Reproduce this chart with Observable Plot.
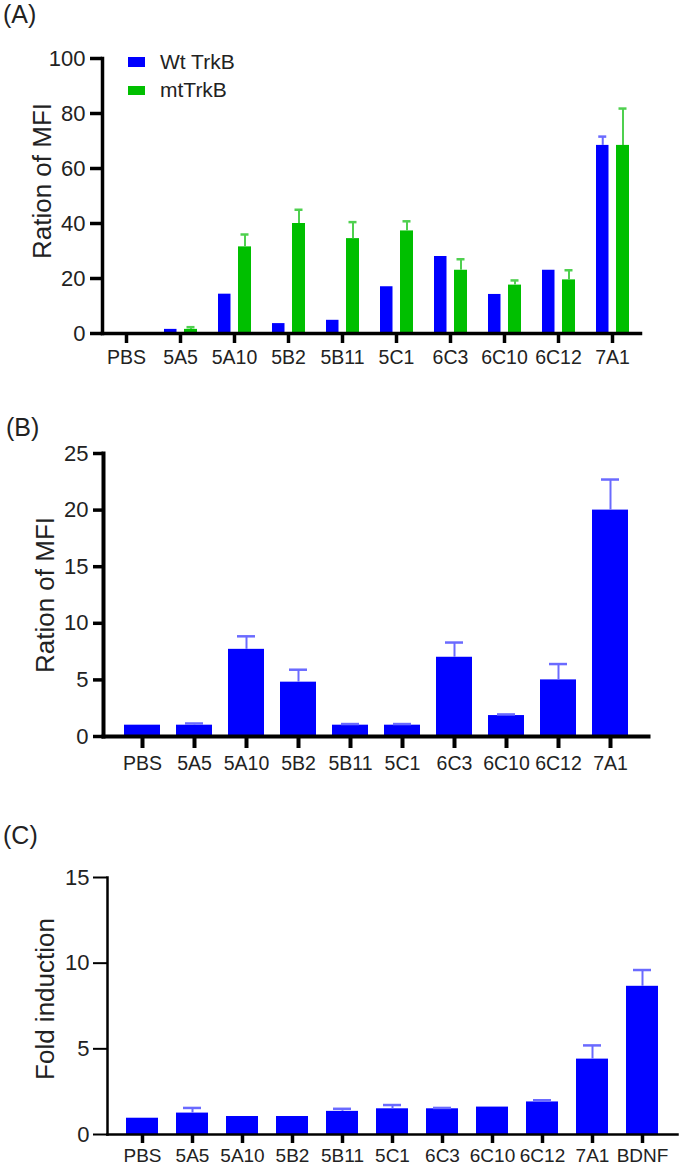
<!DOCTYPE html>
<html><head><meta charset="utf-8">
<script src="https://cdn.jsdelivr.net/npm/d3@7"></script>
<script src="https://cdn.jsdelivr.net/npm/@observablehq/plot@0.6"></script>
<style>
body{margin:0;background:#fff;font-family:"Liberation Sans",Arial,sans-serif;}
#root{position:relative;width:685px;height:1169px;overflow:hidden;background:#fff;}
.panel{position:absolute;left:0;}
.tag{position:absolute;font-size:25px;color:#222;line-height:1;}
.leg{position:absolute;font-size:21px;color:#222;line-height:1;}
.sw{position:absolute;width:17px;}
</style></head><body><div id="root"></div>
<script>
// ---------- data ----------
const categoriesAB = ["PBS","5A5","5A10","5B2","5B11","5C1","6C3","6C10","6C12","7A1"];
const categoriesC = ["PBS","5A5","5A10","5B2","5B11","5C1","6C3","6C10","6C12","7A1","BDNF"];

// Panel A: mean and upper error bar value
const wtA    = [0, 1.5, 14.3, 3.6, 4.8, 17.0, 28.0, 14.2, 23.0, 68.4];
const wtAHi  = [0, 1.5, 14.3, 3.6, 4.8, 17.0, 28.0, 14.2, 23.0, 71.6];
const mtA    = [0, 1.5, 31.5, 40.0, 34.5, 37.3, 23.0, 17.6, 19.5, 68.4];
const mtAHi  = [0, 2.3, 36.0, 45.0, 40.5, 40.8, 27.0, 19.3, 23.0, 81.8];
const yTicksA = [0, 20, 40, 60, 80, 100];

// Panel B
const valB   = [1.0, 1.0, 7.7, 4.8, 1.0, 1.0, 7.0, 1.85, 5.0, 20.0];
const valBHi = [1.0, 1.15, 8.85, 5.9, 1.1, 1.1, 8.3, 1.95, 6.4, 22.7];
const yTicksB = [0, 5, 10, 15, 20, 25];

// Panel C
const valC   = [0.95, 1.25, 1.05, 1.05, 1.35, 1.5, 1.5, 1.6, 1.9, 4.4, 8.65];
const valCHi = [0.95, 1.55, 1.05, 1.05, 1.5, 1.72, 1.55, 1.6, 2.0, 5.2, 9.6];
const yTicksC = [0, 5, 10, 15];

const seriesNames = ["Wt TrkB", "mtTrkB"];
const BLUE = "#0000ff", GREEN = "#00bf00";
const BLUE_ERR = "#6a6aff", GREEN_ERR = "#4fd04f";
const FONT = "'Liberation Sans', Arial, sans-serif";

const root = document.getElementById("root");
function place(el, top){ el.classList.add("panel"); el.style.top = top + "px"; root.appendChild(el); }
function tag(txt, x, y){ const d = document.createElement("div"); d.className="tag"; d.textContent = txt; d.style.left = x+"px"; d.style.top = y+"px"; root.appendChild(d); }
// make axis strokes heavy like the original figure
function heavy(svg, frameW, yTickW, xTickW){
  const set = (label, w) => d3.select(svg).selectAll(`[aria-label="${label}"]`).each(function(){
    d3.select(this).attr("stroke-width", w).style("stroke-width", w + "px").attr("stroke", "#000");
    d3.select(this).selectAll("path,line").attr("stroke-width", w).style("stroke-width", w + "px").attr("stroke", "#000");
  });
  set("frame", frameW);
  set("y-axis tick", yTickW);
  set("x-axis tick", xTickW);
}

// ---------- Panel A ----------
const dataA = categoriesAB.map((c,i)=>({c, wt:wtA[i], wtHi:wtAHi[i], mt:mtA[i], mtHi:mtAHi[i]}));
const errWtA = dataA.filter(d => d.wtHi > d.wt);
const errMtA = dataA.filter(d => d.mtHi > d.mt);
const plotA = Plot.plot({
  width: 685, height: 375, marginTop: 58, marginLeft: 102, marginRight: 45, marginBottom: 42,
  style: {fontFamily: FONT, color: "#222", background: "transparent", overflow: "visible"},
  x: {domain: categoriesAB, range: [98, 639], padding: 0, axis: null},
  y: {domain: [0, 100], axis: null},
  marks: [
    Plot.barY(dataA, {x: "c", y: "wt", fill: BLUE, insetLeft: 11, insetRight: 30.5}),
    Plot.barY(dataA, {x: "c", y: "mt", fill: GREEN, insetLeft: 31, insetRight: 10}),
    Plot.ruleX(errWtA, {x: "c", y1: "wt", y2: "wtHi", stroke: BLUE_ERR, strokeWidth: 2, dx: -9.75}),
    Plot.tickY(errWtA, {x: "c", y: "wtHi", stroke: BLUE_ERR, strokeWidth: 2.5, inset: 23, dx: -9.75}),
    Plot.ruleX(errMtA, {x: "c", y1: "mt", y2: "mtHi", stroke: GREEN_ERR, strokeWidth: 2, dx: 10.5}),
    Plot.tickY(errMtA, {x: "c", y: "mtHi", stroke: GREEN_ERR, strokeWidth: 2.5, inset: 23, dx: 10.5}),
    Plot.frame({anchor: "left", stroke: "#000", strokeWidth: 3.5}),
    Plot.frame({anchor: "bottom", stroke: "#000", strokeWidth: 3.5}),
    Plot.axisY({ticks: yTicksA, tickSize: 12, tickPadding: 5, strokeWidth: 3, fontSize: 22, label: null, stroke: "#000"}),
    Plot.axisX({tickSize: 10, tickPadding: 7, strokeWidth: 3, fontSize: 19.5, label: null, stroke: "#000"}),
    Plot.text(["Ration of MFI"], {text: d => d, frameAnchor: "left", textAnchor: "middle", rotate: -90, dx: -60, dy: -15, fontSize: 26, fill: "#222"})
  ]
});
heavy(plotA, 3.5, 3.5, 3.5);
place(plotA, 0);
tag("(A)", 3, 2);
// legend
[[BLUE, 57, 10, 51], [GREEN, 86, 9, 79]].forEach(([col, top, h, ty], i) => {
  const s = document.createElement("div"); s.className = "sw"; s.style.left = "128px"; s.style.top = top + "px"; s.style.height = h + "px"; s.style.background = col; root.appendChild(s);
  const t = document.createElement("div"); t.className = "leg"; t.textContent = seriesNames[i]; t.style.left = "160px"; t.style.top = ty + "px"; root.appendChild(t);
});

// ---------- Panel B ----------
const dataB = categoriesAB.map((c,i)=>({c, v: valB[i], hi: valBHi[i]}));
const errB = dataB.filter(d => d.hi > d.v);
const plotB = Plot.plot({
  width: 685, height: 378, marginTop: 53, marginLeft: 103, marginRight: 37, marginBottom: 42,
  style: {fontFamily: FONT, color: "#222", background: "transparent", overflow: "visible"},
  x: {domain: categoriesAB, paddingInner: 0.31, paddingOuter: 0.36, axis: null},
  y: {domain: [0, 25], axis: null},
  marks: [
    Plot.barY(dataB, {x: "c", y: "v", fill: BLUE}),
    Plot.ruleX(errB, {x: "c", y1: "v", y2: "hi", stroke: BLUE_ERR, strokeWidth: 2}),
    Plot.tickY(errB, {x: "c", y: "hi", stroke: BLUE_ERR, strokeWidth: 2.5, inset: 9}),
    Plot.frame({anchor: "left", stroke: "#000", strokeWidth: 3.5}),
    Plot.frame({anchor: "bottom", stroke: "#000", strokeWidth: 4}),
    Plot.axisY({ticks: yTicksB, tickSize: 10, tickPadding: 5, strokeWidth: 3.5, fontSize: 22, label: null, stroke: "#000"}),
    Plot.axisX({tickSize: 12, tickPadding: 8, strokeWidth: 4, fontSize: 19.5, label: null, stroke: "#000"}),
    Plot.text(["Ration of MFI"], {text: d => d, frameAnchor: "left", textAnchor: "middle", rotate: -90, dx: -58, fontSize: 26, fill: "#222"})
  ]
});
heavy(plotB, 4, 3.5, 4);
place(plotB, 400);
tag("(B)", 6, 415);

// ---------- Panel C ----------
const dataC = categoriesC.map((c,i)=>({c, v: valC[i], hi: valCHi[i]}));
const errC = dataC.filter(d => d.hi > d.v);
const plotC = Plot.plot({
  width: 685, height: 349, marginTop: 57, marginLeft: 107, marginRight: 8, marginBottom: 35,
  style: {fontFamily: FONT, color: "#222", background: "transparent", overflow: "visible"},
  x: {domain: categoriesC, paddingInner: 0.36, paddingOuter: 0.35, axis: null},
  y: {domain: [0, 15], axis: null},
  marks: [
    Plot.barY(dataC, {x: "c", y: "v", fill: BLUE}),
    Plot.ruleX(errC, {x: "c", y1: "v", y2: "hi", stroke: BLUE_ERR, strokeWidth: 2}),
    Plot.tickY(errC, {x: "c", y: "hi", stroke: BLUE_ERR, strokeWidth: 2.5, inset: 7}),
    Plot.frame({anchor: "left", stroke: "#000", strokeWidth: 2.5}),
    Plot.frame({anchor: "bottom", stroke: "#000", strokeWidth: 2.5}),
    Plot.axisY({ticks: yTicksC, tickSize: 14, tickPadding: 4, strokeWidth: 2, fontSize: 22, label: null, stroke: "#000"}),
    Plot.axisX({tickSize: 9, tickPadding: 5, strokeWidth: 3.5, fontSize: 19, label: null, stroke: "#000"}),
    Plot.text(["Fold induction"], {text: d => d, frameAnchor: "left", textAnchor: "middle", rotate: -90, dx: -62, dy: -7, fontSize: 26, fill: "#222"})
  ]
});
heavy(plotC, 2.5, 2, 3.5);
place(plotC, 820);
tag("(C)", 3, 823);
</script></body></html>
